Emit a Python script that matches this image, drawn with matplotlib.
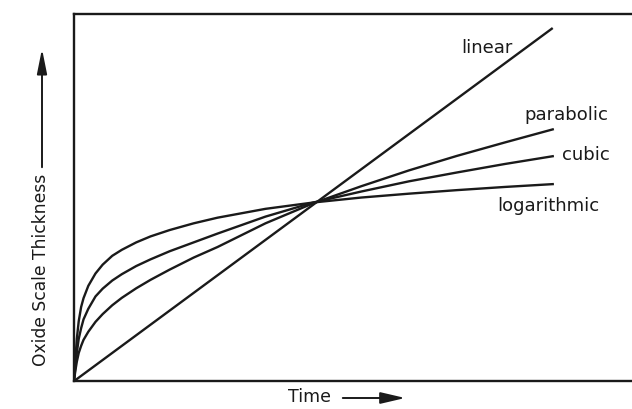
import matplotlib.pyplot as plt

plt.rcParams['font.family'] = ['DejaVu Sans']

# time (normalised) and oxide thickness
time = [0, 0.003, 0.006, 0.01, 0.015, 0.02, 0.03, 0.045, 0.06, 0.08, 0.1, 0.13, 0.16,
        0.2, 0.25, 0.3, 0.4, 0.5, 0.6, 0.7, 0.8, 0.9, 1.0]
logarithmic = [0, 0.06, 0.12, 0.17, 0.21, 0.235, 0.27, 0.305, 0.33, 0.355, 0.372, 0.393, 0.41,
               0.428, 0.447, 0.463, 0.488, 0.506, 0.52, 0.531, 0.541, 0.55, 0.558]
cubic = [0, 0.04, 0.08, 0.12, 0.15, 0.175, 0.205, 0.24, 0.262, 0.285, 0.303, 0.326, 0.345,
         0.368, 0.393, 0.418, 0.466, 0.506, 0.537, 0.566, 0.591, 0.615, 0.637]
parabolic = [0, 0.03, 0.055, 0.08, 0.1, 0.117, 0.14, 0.168, 0.19, 0.215, 0.236, 0.263, 0.287,
             0.316, 0.35, 0.38, 0.447, 0.504, 0.552, 0.597, 0.638, 0.676, 0.713]
linear_t = [0, 1.0]
linear = [0, 1.0]

fig = plt.figure(figsize=(6.32, 4.09), dpi=100)
ax = fig.add_axes([0.117, 0.068, 0.903, 0.898])

ink = '#1a1a1a'
lw = 1.7
ax.plot(linear_t, linear, color=ink, lw=lw, solid_capstyle='butt')
ax.plot(time, parabolic, color=ink, lw=lw)
ax.plot(time, cubic, color=ink, lw=lw)
ax.plot(time, logarithmic, color=ink, lw=lw)

ax.set_xlim(0, 1.192)
ax.set_ylim(0, 1.04)
ax.set_xticks([])
ax.set_yticks([])
for s in ax.spines.values():
    s.set_linewidth(1.7)
    s.set_color(ink)

fs = 13
ax.text(0.862, 0.943, 'linear', fontsize=fs, ha='center', va='center', color=ink)
ax.text(1.029, 0.755, 'parabolic', fontsize=fs, ha='center', va='center', color=ink)
ax.text(1.019, 0.640, 'cubic', fontsize=fs, ha='left', va='center', color=ink)
ax.text(0.99, 0.495, 'logarithmic', fontsize=fs, ha='center', va='center', color=ink)

# axis captions with arrows
fig.text(41 / 632, 1 - 270 / 409, 'Oxide Scale Thickness', rotation=90, fontsize=12.3,
         ha='center', va='center', color=ink)
ax.annotate('', xy=(42, 409 - 46), xytext=(42, 409 - 170), xycoords='figure pixels',
            textcoords='figure pixels',
            arrowprops=dict(arrowstyle='-|>,head_length=1.5,head_width=0.3', color=ink, lw=1.4))

fig.text(309 / 632, 1 - 397 / 409, 'Time', fontsize=12.5, ha='center', va='center', color=ink)
ax.annotate('', xy=(408, 409 - 398), xytext=(340, 409 - 398), xycoords='figure pixels',
            textcoords='figure pixels',
            arrowprops=dict(arrowstyle='-|>,head_length=1.5,head_width=0.35', color=ink, lw=1.4))

fig.savefig('out.png', dpi=100)
